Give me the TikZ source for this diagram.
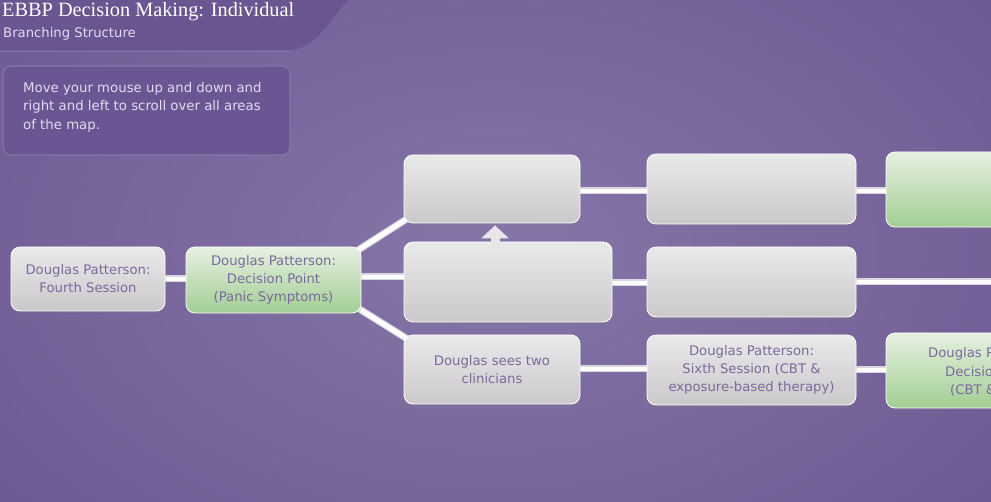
\documentclass[tikz,border=0pt]{standalone}
\usepackage{fontspec}
\setmainfont{DejaVu Sans}
\newfontfamily\titlefont{Liberation Serif}
\usetikzlibrary{shadows,calc}
\definecolor{bgmid}{HTML}{8676A8}
\definecolor{bgedge}{HTML}{6E5A93}
\definecolor{hdr}{HTML}{6A5591}
\definecolor{infofill}{HTML}{6B5693}
\definecolor{infoline}{HTML}{8575A6}
\definecolor{infotext}{HTML}{E2DAF0}
\definecolor{graytop}{HTML}{EAE9EA}
\definecolor{graybot}{HTML}{CBC8CC}
\definecolor{greentop}{HTML}{E6F0E2}
\definecolor{greenbot}{HTML}{A2CE94}
\definecolor{nodetext}{HTML}{7A6A9A}
\definecolor{connshade}{HTML}{DAD6DF}
\pgfdeclarelayer{bglayer}
\pgfdeclarelayer{connlayer}
\pgfsetlayers{bglayer,connlayer,main}
\tikzset{
  box/.style={rounded corners=9pt, draw=white, line width=0.8pt,
    text=nodetext, align=center, inner sep=0pt,
    font=\fontsize{13.2}{18}\selectfont,
    drop shadow={opacity=0.25, shadow xshift=1pt, shadow yshift=-2pt}},
  graybox/.style={box, top color=graytop, bottom color=graybot},
  greenbox/.style={box, top color=greentop, bottom color=greenbot},
  connbase/.style={line width=7pt, draw=connshade},
  conntop/.style={line width=4.6pt, draw=white!97!connshade},
  parttext/.style={text=nodetext, anchor=west, inner sep=0pt, font=\fontsize{13.2}{18}\selectfont},
}
\begin{document}
\begin{tikzpicture}[x=1pt,y=-1pt]
\useasboundingbox (0,0) rectangle (991,502);
\clip (0,0) rectangle (991,502);
\begin{pgfonlayer}{bglayer}
  \shade[inner color=bgmid, outer color=bgedge] (-150,-150) rectangle (1141,652);
  \fill[hdr] (0,0) -- (348,0) .. controls (330,18) and (318,48) .. (290,50) -- (0,50) -- cycle;
  \draw[infoline, line width=0.6pt] (0,51) -- (290,51);
\end{pgfonlayer}

% title texts
\node[anchor=west, inner sep=0pt, text=white, font=\titlefont\fontsize{20.3}{22}\selectfont] (title) at (2,12) {EBBP Decision Making: Individual};
\node[anchor=west, inner sep=0pt, text=infotext, font=\fontsize{13.2}{15}\selectfont] (subtitle) at (3,34) {Branching Structure};

% info box
\node[rounded corners=8pt, draw=infoline, line width=1.2pt, fill=infofill,
  minimum width=287pt, minimum height=89pt, inner sep=0pt] (info) at (146.5,110.5) {};
\node[anchor=north west, inner sep=0pt, align=left, text=infotext,
  font=\fontsize{13.3}{18.5}\selectfont] (infotxt) at (23,82) {Move your mouse up and down and\\right and left to scroll over all areas\\of the map.};

% nodes
\node[graybox, minimum width=154pt, minimum height=64pt] (A) at (88,279) {Douglas Patterson:\\Fourth Session};
\node[greenbox, minimum width=175pt, minimum height=66pt] (B) at (273.5,280) {Douglas Patterson:\\Decision Point\\(Panic Symptoms)};
\node[graybox, minimum width=176pt, minimum height=68pt] (C) at (492,189) {};
\node[graybox, minimum width=208pt, minimum height=80pt] (D) at (508,282) {};
\node[graybox, minimum width=176pt, minimum height=69pt] (E) at (492,369.5) {Douglas sees two\\clinicians};
\node[graybox, minimum width=209pt, minimum height=70pt] (F) at (751.5,189) {};
\node[graybox, minimum width=209pt, minimum height=70pt] (G) at (751.5,282) {};
\node[graybox, minimum width=209pt, minimum height=70pt] (H) at (751.5,370) {Douglas Patterson:\\Sixth Session (CBT \&\\exposure-based therapy)};
\node[greenbox, minimum width=209pt, minimum height=75pt] (I) at (990.5,189.5) {};
\node[greenbox, minimum width=209pt, minimum height=75pt] (J) at (990.5,370.5) {};
\node[parttext] (J1) at (928,354) {Douglas P};
\node[parttext] (J2) at (945,372) {Decisio};
\node[parttext] (J3) at (950,390) {(CBT \&};
\coordinate (gEnd) at (1000,282);

% up arrow between D and C
\fill[graytop!92!graybot] (495,225.5) -- (509,238.5) -- (481,238.5) -- cycle;
\fill[graytop!92!graybot] (490.5,238) rectangle (499.5,243);

% connectors
\begin{pgfonlayer}{connlayer}
\foreach \s in {connbase,conntop}{
  \draw[\s] (A.east) -- (A.east -| B.west);
  \draw[\s] ([shift={(-11,8.4)}]B.north east) -- ([shift={(11,-9.5)}]C.south west);
  \draw[\s] ([xshift=-2pt]B.east |- 0,277) -- ([xshift=2pt]D.west |- 0,277);
  \draw[\s] ([shift={(-11,-10)}]B.south east) -- ([shift={(16,12)}]E.north west);
  \draw[\s] (C.east |- 0,191) -- (F.west |- 0,191);
  \draw[\s] (D.east |- 0,283) -- (G.west |- 0,283);
  \draw[\s] (E.east |- 0,369) -- (H.west |- 0,369);
  \draw[\s] (F.east |- 0,191) -- (I.west |- 0,191);
  \draw[\s] (G.east |- 0,282) -- (gEnd);
  \draw[\s] (H.east |- 0,370) -- (J.west |- 0,370);
}
\end{pgfonlayer}
\end{tikzpicture}
\end{document}
